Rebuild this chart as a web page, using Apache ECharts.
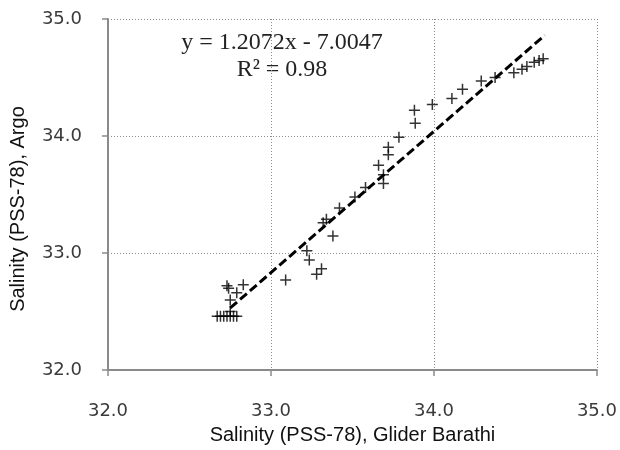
<!DOCTYPE html>
<html>
<head>
<meta charset="utf-8">
<script src="https://cdn.jsdelivr.net/npm/echarts@6/dist/echarts.min.js"></script>
<style>
  html, body { margin: 0; padding: 0; background: #fff; }
  #chart { width: 620px; height: 450px; }
</style>
</head>
<body>
<div id="chart"></div>
<script>
// Glider salinity (x) against the co-located Argo salinity (y), PSS-78
const gliderX = [
  32.67, 32.69, 32.71, 32.73, 32.75, 32.77, 32.79,
  32.75, 32.75, 32.74, 32.73, 32.79, 32.83,
  33.09, 33.22, 33.235, 33.28, 33.31, 33.32, 33.34, 33.38, 33.42,
  33.515, 33.58, 33.69, 33.69, 33.66, 33.72, 33.72, 33.785,
  33.885, 33.88, 33.99, 34.11, 34.175, 34.29, 34.375,
  34.49, 34.54, 34.57, 34.615, 34.645, 34.67
];
const argoY = [
  32.46, 32.46, 32.46, 32.46, 32.46, 32.46, 32.46,
  32.50, 32.60, 32.70, 32.72, 32.66, 32.73,
  32.77, 33.02, 32.94, 32.82, 32.865, 33.26, 33.29, 33.145, 33.385,
  33.48, 33.56, 33.595, 33.67, 33.75, 33.84, 33.905, 33.99,
  34.11, 34.22, 34.27, 34.32, 34.40, 34.47, 34.50,
  34.54, 34.57, 34.595, 34.63, 34.645, 34.66
];

// Linear fit shown on the chart
const slope = 1.2072;
const intercept = -7.0047;
const rSquared = 0.98;
const trendRange = [32.75, 34.68];

const axisTicks = [32, 33, 34, 35];
const xTitle = 'Salinity (PSS-78), Glider Barathi';
const yTitle = 'Salinity (PSS-78), Argo';

const points = gliderX.map((x, i) => [x, argoY[i]]);
const trend = trendRange.map(x => [x, slope * x + intercept]);

const fmt = v => v.toFixed(1);
const axisCommon = {
  type: 'value',
  min: axisTicks[0],
  max: axisTicks[axisTicks.length - 1],
  interval: 1,
  axisLine: { show: true, lineStyle: { color: '#8a8a8a', width: 2 } },
  axisTick: { show: true, inside: false, length: 6, lineStyle: { color: '#8a8a8a', width: 1.5 } },
  splitLine: { show: true, lineStyle: { color: '#8c8c8c', width: 1, type: [1, 2] } },
  axisLabel: {
    formatter: fmt,
    color: '#3a3a3a',
    fontFamily: 'DejaVu Sans',
    fontSize: 18,
    lineHeight: 18
  },
  nameLocation: 'middle',
  nameTextStyle: {
    fontFamily: 'Liberation Sans',
    fontSize: 20,
    color: '#111'
  }
};

const chart = echarts.init(document.getElementById('chart'), null, { renderer: 'canvas' });
chart.setOption({
  animation: false,
  backgroundColor: '#fff',
  grid: { left: 108, right: 23, top: 19, bottom: 76, containLabel: false },
  xAxis: Object.assign({}, axisCommon, {
    name: xTitle,
    nameGap: 54,
    axisLabel: Object.assign({}, axisCommon.axisLabel, { margin: 32 })
  }),
  yAxis: Object.assign({}, axisCommon, {
    name: yTitle,
    nameGap: 80,
    nameTextStyle: Object.assign({}, axisCommon.nameTextStyle, { padding: [0, 29, 0, 0] }),
    axisLabel: Object.assign({}, axisCommon.axisLabel, { margin: 26 })
  }),
  graphic: [
    {
      type: 'text',
      left: 282 - 110,
      top: 29,
      style: {
        text: 'y = 1.2072x - 7.0047\nR² = ' + rSquared.toFixed(2),
        font: '24px "Liberation Serif"',
        fill: '#222',
        textAlign: 'center',
        lineHeight: 27,
        width: 220
      }
    }
  ],
  series: [
    {
      type: 'scatter',
      data: points,
      symbol: 'path://M0,6H12M6,0V12',
      symbolSize: 11,
      itemStyle: { color: 'none', borderColor: '#000', borderWidth: 1.5 },
      z: 2
    },
    {
      type: 'line',
      data: trend,
      showSymbol: false,
      symbol: 'none',
      lineStyle: { color: '#000', width: 3, type: [9, 4] },
      z: 3
    }
  ]
});
</script>
</body>
</html>
